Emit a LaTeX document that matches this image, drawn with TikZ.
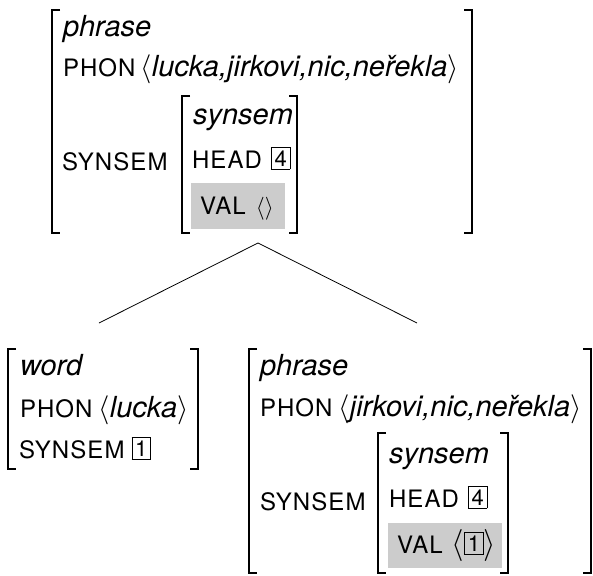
\documentclass[tikz,border=0pt]{standalone}
\usepackage{fix-cm}
\usepackage{fontspec}
\newfontfamily\heros{TeX Gyre Heros}
\newfontfamily\featfont[LetterSpace=4.5]{TeX Gyre Heros}
\definecolor{valgray}{RGB}{204,204,204}

% type names (italic), feature names (capitals), list brackets, tags
\newcommand\typ[1]{{\fontsize{29}{30}\selectfont\heros\itshape #1}}
\newcommand\feat[1]{{\fontsize{24}{25}\selectfont\featfont #1}}
\newcommand\lang[1][29]{{\fontsize{#1}{30}\selectfont$\langle$}}
\newcommand\rang[1][29]{{\fontsize{#1}{30}\selectfont$\rangle$}}
\newcommand\tagno[1]{\raisebox{1.8pt}{\fontsize{22}{23}\selectfont\heros\setlength\fboxrule{0.8pt}\setlength\fboxsep{2.8pt}\fbox{#1}}}

% an AVM bracket pair: left x, right x, top y, bottom y
\newcommand\avmbrackets[4]{%
  \draw[brk] (#1+8,#3) -- (#1,#3) -- (#1,#4) -- (#1+8,#4);
  \draw[brk] (#2-8,#3) -- (#2,#3) -- (#2,#4) -- (#2-8,#4);}

\begin{document}
\begin{tikzpicture}[x=1pt,y=-1pt,
  txt/.style={anchor=base west,inner sep=0pt,outer sep=0pt},
  brk/.style={line width=1.6pt,line cap=butt,line join=miter},
  branch/.style={line width=0.8pt}]
\useasboundingbox (0,0) rectangle (593,575);

% ---------- mother: phrase ----------
\avmbrackets{52}{472}{10}{233}
\node[txt] (mtype) at (63,37) {\typ{phrase}};
\node[txt] (mphon) at (63,77) {\feat{PHON}\hspace{5pt}\lang\typ{lucka,jirkovi,nic,neřekla}\rang};
\node[txt] (msyn) at (62,170) {\feat{SYNSEM}};
\avmbrackets{182}{297}{96}{233}
\node[txt] (mss) at (193,124) {\typ{synsem}};
\node[txt] (mhead) at (192,168) {\feat{HEAD}\hspace{9pt}\tagno{4}};
\fill[valgray] (191,183) rectangle (285,229);
\node[txt] (mval) at (200,214) {\feat{VAL}\hspace{10pt}\lang[23]\rang[23]};

% ---------- branches ----------
\coordinate (apex) at (258,243);
\coordinate (lfoot) at (99,323);
\coordinate (rfoot) at (417,323);
\draw[branch] (apex) -- (lfoot);
\draw[branch] (apex) -- (rfoot);

% ---------- left daughter: word ----------
\avmbrackets{8}{198}{349}{469}
\node[txt] (wtype) at (20,375) {\typ{word}};
\node[txt] (wphon) at (20,417) {\feat{PHON}\hspace{6pt}\lang\typ{lucka}\rang};
\node[txt] (wsyn) at (19,458) {\feat{SYNSEM}\hspace{7pt}\tagno{1}};

% ---------- right daughter: phrase ----------
\avmbrackets{249}{591}{349}{573}
\node[txt] (dtype) at (260,375) {\typ{phrase}};
\node[txt] (dphon) at (260,416) {\feat{PHON}\hspace{6pt}\lang\typ{jirkovi,nic,neřekla}\rang};
\node[txt] (dsyn) at (260,510) {\feat{SYNSEM}};
\avmbrackets{378}{508}{433}{573}
\node[txt] (dss) at (389,463) {\typ{synsem}};
\node[txt] (dhead) at (389,507) {\feat{HEAD}\hspace{9pt}\tagno{4}};
\fill[valgray] (388,523) rectangle (502,568);
\node[txt] (dval) at (397,553) {\feat{VAL}\hspace{9pt}\lang[32]\tagno{1}\rang[32]};
\end{tikzpicture}
\end{document}
